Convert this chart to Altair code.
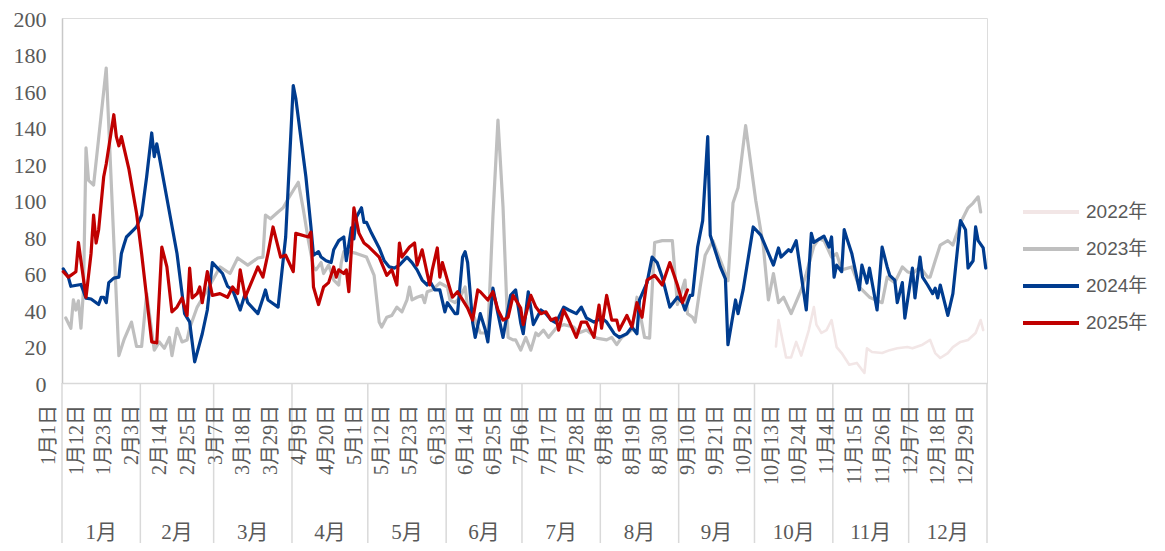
import altair as alt
import pandas as pd

YEARS = ["2022年", "2023年", "2024年", "2025年"]
COLORS = ["#F2E6E6", "#BFBFBF", "#003C8F", "#C00000"]

# day index (0 = 1月1日) and values for each series
D2022_DAY = [282, 283, 286, 288, 290, 292, 295, 297, 298, 300, 302, 304, 306, 308, 311, 314, 317, 318,
             320, 324, 327, 330, 334, 336, 340, 343, 345, 347, 350, 352, 355, 358, 361, 363, 364]
D2022_VAL = [20, 34.5, 14, 14, 22.5, 15, 29, 41.6, 32, 27.4, 29, 34.5, 19.7, 16.4, 10, 11, 5.5, 19,
             17, 16.4, 18, 19, 19.7, 19, 21, 23.6, 16.4, 13.7, 16.4, 19.7, 22.5, 23.6, 27.4, 34.5, 29]

D2023_DAY = [1, 3, 4, 5, 6, 7, 8, 9, 10, 12, 14, 17, 22, 24, 27, 29, 31, 33, 36, 38, 40, 42, 43, 45, 47,
             49, 50, 53, 57, 62, 66, 69, 73, 77, 79, 80, 82, 85, 87, 89, 93, 95, 97, 99, 100, 102, 103,
             105, 107, 109, 110, 111, 113, 116, 120, 123, 125, 126, 128, 130, 132, 134, 136, 137, 138,
             140, 142, 143, 144, 146, 149, 152, 153, 155, 157, 159, 160, 162, 165, 168, 170, 172, 174,
             176, 178, 179, 181, 183, 185, 187, 188, 190, 192, 195, 198, 202, 204, 207, 211, 215, 217,
             219, 221, 225, 227, 230, 232, 234, 237, 241, 243, 246, 247, 249, 250, 252, 254, 257, 261,
             263, 265, 267, 270, 274, 277, 279, 281, 283, 285, 288, 292, 294, 297, 299, 301, 304, 306,
             308, 312, 315, 319, 324, 326, 329, 332, 334, 336, 339, 342, 343, 345, 347, 350, 352, 355,
             358, 360, 362, 363]
D2023_VAL = [35.6, 30, 45.5, 40, 45, 30, 51, 128.8, 111, 108.5, 134, 172.6, 15, 23.6, 33.4, 20, 20, 49,
             18, 22.5, 19, 25, 15, 30, 22.5, 23.6, 30, 41.6, 51, 63.6, 60, 68.5, 64.6, 68.5, 69, 92, 90,
             93.7, 96, 101, 110, 95, 78, 63.6, 62, 66, 60, 64.6, 56.4, 53.7, 66, 72, 72, 71, 69, 59,
             33.4, 30.7, 36, 37, 41.6, 39, 45.5, 52.6, 45.5, 47, 48, 44, 50, 51, 54.8, 52.6, 45.5, 44,
             47, 52.6, 41.6, 38, 27.4, 27.4, 91, 144, 96.5, 25, 23.6, 23.6, 18, 25, 18, 27.4, 26, 29,
             25, 30, 32, 30.7, 27.4, 29, 24.6, 23.6, 25, 21, 25, 29, 47, 25, 24.6, 77, 78, 78, 43,
             56.4, 38, 36, 33.4, 52.6, 70, 78, 63.6, 56, 98.6, 107, 141, 100, 75, 45.5, 60, 44, 47,
             38, 51, 60, 75, 79, 78, 69, 71, 62, 63.6, 52.6, 47, 44, 58, 55, 63.6, 61, 60, 63.6, 58,
             58, 67, 75.6, 78, 75.6, 87.7, 96, 98.6, 102, 93.7]

D2024_DAY = [0, 2, 3, 7, 9, 11, 14, 15, 16, 17, 18, 20, 22, 23, 24, 25, 29, 31, 33, 35, 36, 37, 38, 45,
             48, 50, 52, 55, 57, 59, 63, 65, 67, 70, 72, 73, 77, 79, 80, 81, 85, 88, 90, 91, 92, 96, 98,
             99, 101, 102, 104, 106, 107, 109, 111, 112, 114, 115, 116, 118, 119, 120, 122, 125, 127,
             129, 131, 133, 136, 138, 140, 142, 144, 145, 147, 149, 151, 152, 155, 156, 158, 159, 160,
             162, 163, 165, 167, 168, 170, 172, 174, 177, 179, 181, 182, 184, 186, 189, 191, 193, 195,
             198, 200, 203, 205, 207, 210, 213, 215, 218, 220, 223, 225, 227, 228, 231, 233, 235, 237,
             240, 243, 245, 246, 248, 249, 251, 253, 255, 256, 260, 262, 263, 266, 267, 269, 273, 276,
             281, 283, 284, 287, 288, 290, 294, 296, 297, 301, 303, 304, 305, 306, 308, 309, 310, 312,
             315, 316, 318, 319, 322, 324, 326, 327, 329, 330, 332, 333, 336, 337, 339, 340, 342, 344,
             345, 346, 347, 350, 352, 355, 357, 358, 360, 361, 362, 364, 365]
D2024_VAL = [62.5, 58, 53, 54, 46.5, 46, 43, 47, 47, 44, 55, 57.5, 58, 71, 75.6, 80, 85.5, 92, 113, 137,
             124, 131, 124, 71, 38, 33.5, 11.6, 27, 40, 66, 60, 53, 51, 40, 49, 44, 38, 46.5, 51, 45.5,
             41.6, 80, 135, 163, 156, 113, 85.5, 70, 72, 69, 67, 66, 73, 78, 80, 67, 85, 79, 91, 96, 88,
             88, 82, 74, 67, 63.6, 63, 64.6, 69, 66, 62, 56.4, 53.7, 56, 51, 51, 39, 44, 38, 38, 69, 72,
             66, 33, 25, 38, 29, 22.5, 52, 38, 25, 48, 51, 33, 27, 50, 32, 40, 38, 34.5, 33, 41.6, 40,
             38, 41.6, 35.6, 33.4, 35.6, 33.4, 27, 25, 27, 30.7, 27, 45.5, 55, 69, 66, 58, 41.6, 47, 44,
             40, 48, 48, 74.5, 89, 135, 81, 63.6, 57, 21, 45.5, 38, 51, 85.5, 81, 64.6, 74, 69, 73, 72,
             78, 40, 82, 77, 80.5, 74.5, 80, 58, 64.6, 61, 84, 79.5, 71, 51, 64.6, 54.8, 63, 40, 74.5,
             63.6, 59, 56.4, 44, 55, 35.6, 63, 46.6, 69, 58, 53.7, 49, 52, 46.6, 53.7, 37, 49, 89, 84,
             63, 67, 85.5, 78, 74, 63]

D2025_DAY = [0, 2, 5, 6, 7, 9, 11, 12, 13, 14, 16, 17, 20, 21, 22, 23, 26, 29, 31, 35, 37, 39, 41, 43,
             45, 47, 49, 50, 51, 53, 54, 55, 57, 59, 62, 65, 67, 69, 70, 72, 77, 79, 81, 83, 86, 88, 91,
             92, 97, 98, 99, 101, 103, 105, 107, 108, 109, 111, 112, 113, 115, 117, 119, 121, 125, 128,
             130, 132, 133, 134, 137, 139, 140, 142, 144, 145, 146, 148, 149, 150, 152, 154, 156, 158,
             160, 162, 164, 165, 168, 170, 172, 174, 176, 178, 181, 182, 185, 187, 189, 191, 193, 195,
             196, 198, 200, 203, 205, 207, 210, 212, 213, 215, 217, 219, 220, 223, 225, 227, 229, 231,
             234, 237, 240, 243, 245, 247]
D2025_VAL = [61, 58, 61, 77, 67, 47, 71, 92, 76.7, 84, 113, 120, 147, 135, 130, 135, 117, 93, 71, 22.5,
             22, 74.5, 63.6, 39, 41.6, 46.6, 37, 63, 46.6, 49, 52.6, 44, 61, 48, 49, 47, 52.6, 49, 62,
             47, 63.6, 58, 71, 85.5, 69, 70, 61, 82, 80, 82.7, 52.6, 43, 52.6, 55, 63.6, 58, 62, 60, 62,
             50, 96, 82, 76.7, 74.5, 69, 59, 62, 53.7, 76.7, 69, 74.5, 76.7, 64.6, 73, 60, 53.7, 62, 74,
             58, 66, 56.4, 47, 50, 45.5, 41, 34.5, 51, 50, 45.5, 50, 40, 34.5, 36, 48, 41, 32, 48, 41.6,
             38, 39, 34.5, 35.6, 29, 40, 34.5, 25, 33.4, 33.4, 25, 42.7, 30, 48, 34.5, 34.5, 29, 37,
             30.7, 44, 36, 56.4, 59, 53.7, 66, 53.7, 44, 51]

TICK_DAY = [0, 11, 22, 33, 44, 55, 66, 77, 88, 99, 110, 121, 132, 143, 154, 165, 176, 187, 198, 209,
            220, 231, 242, 253, 264, 275, 286, 297, 308, 319, 330, 341, 352, 363]
TICK_LABEL = ["1月1日", "1月12日", "1月23日", "2月3日", "2月14日", "2月25日", "3月7日", "3月18日",
              "3月29日", "4月9日", "4月20日", "5月1日", "5月12日", "5月23日", "6月3日", "6月14日",
              "6月25日", "7月6日", "7月17日", "7月28日", "8月8日", "8月19日", "8月30日", "9月10日",
              "9月21日", "10月2日", "10月13日", "10月24日", "11月4日", "11月15日", "11月26日",
              "12月7日", "12月18日", "12月29日"]

MONTH_LABEL = ["1月", "2月", "3月", "4月", "5月", "6月", "7月", "8月", "9月", "10月", "11月", "12月"]
MONTH_BOUND = [0, 31, 60, 91, 121, 152, 182, 213, 244, 274, 305, 335, 366]

SERIF = "Liberation Serif, Noto Sans CJK SC"
SANS = "Liberation Sans, Noto Sans CJK SC"

series = {
    "2022年": (D2022_DAY, D2022_VAL),
    "2023年": (D2023_DAY, D2023_VAL),
    "2024年": (D2024_DAY, D2024_VAL),
    "2025年": (D2025_DAY, D2025_VAL),
}

xscale = alt.Scale(domain=[0, 366], nice=False, zero=False)
xaxis = alt.Axis(labels=False, ticks=False, grid=False, title=None,
                 domainColor="#D9D9D9", domainWidth=1.5)
yaxis = alt.Axis(values=list(range(0, 201, 20)), grid=False, ticks=False, tickSize=0,
                 domainColor="#C8C8C8", domainWidth=1.5, labelFont="Liberation Serif",
                 labelFontSize=22, labelColor="#595959", labelPadding=16, labelOffset=1,
                 title=None)
legend = alt.Legend(orient="none", legendX=959, legendY=184, title=None, symbolType="stroke",
                    symbolSize=3136, symbolStrokeWidth=4, clipHeight=20, rowPadding=17,
                    labelFont=SANS, labelFontSize=19, labelColor="#595959", labelOffset=5,
                    padding=0)
color = alt.Color("year:N", scale=alt.Scale(domain=YEARS, range=COLORS), legend=legend)

layers = []
for yr in YEARS:
    days, vals = series[yr]
    df = pd.DataFrame({"day": days, "value": vals, "year": yr})
    layers.append(
        alt.Chart(df).transform_calculate(pos="datum.day + 0.5")
        .mark_line(strokeWidth=3.2 if yr != "2022年" else 2.6, strokeJoin="round", strokeCap="round")
        .encode(
            x=alt.X("pos:Q", scale=xscale, axis=xaxis),
            y=alt.Y("value:Q", scale=alt.Scale(domain=[0, 200], nice=False), axis=yaxis),
            color=color,
            order=alt.Order("day:Q"),
        )
    )

sep_df = pd.DataFrame({"b": MONTH_BOUND})
seps = alt.Chart(sep_df).mark_rule(color="#D9D9D9", strokeWidth=1.5).encode(
    x=alt.X("b:Q", scale=xscale, axis=xaxis), y=alt.value(365), y2=alt.value(525)
)

tick_df = pd.DataFrame({"day": TICK_DAY, "label": TICK_LABEL})
ticks = alt.Chart(tick_df).transform_calculate(pos="datum.day + 0.5").mark_text(
    angle=270, align="right", baseline="middle", font=SERIF, fontSize=20,
    color="#595959", xOffset=-14.5
).encode(x=alt.X("pos:Q", scale=xscale, axis=xaxis), y=alt.value(387), text="label:N")

month_df = pd.DataFrame({"start": MONTH_BOUND[:-1], "end": MONTH_BOUND[1:], "label": MONTH_LABEL})
months = alt.Chart(month_df).transform_calculate(mid="(datum.start + datum.end) / 2").mark_text(
    align="center", baseline="middle", font=SERIF, fontSize=21, color="#595959"
).encode(x=alt.X("mid:Q", scale=xscale, axis=xaxis), y=alt.value(515), text="label:N")

chart = alt.layer(seps, ticks, months, *layers).properties(
    width=925, height=365,
    autosize=alt.AutoSizeParams(type="none"),
    padding={"left": 54, "top": 10, "right": 170, "bottom": 160},
).configure_view(stroke=None).configure(background="white")

chart.save("out.html", embed_options={"renderer": "svg", "actions": False})
